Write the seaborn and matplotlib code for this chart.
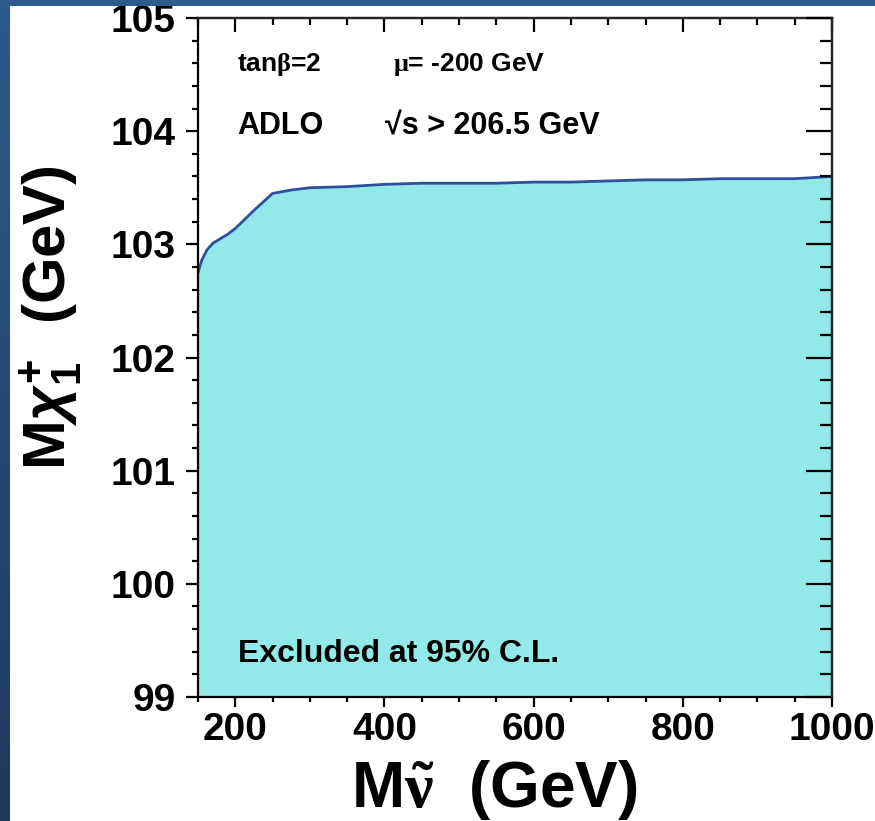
import numpy as np
import pandas as pd
import matplotlib
matplotlib.use("Agg")
import matplotlib.pyplot as plt
from matplotlib.patches import Rectangle
from matplotlib.ticker import MultipleLocator
import seaborn as sns

# Sneutrino mass (GeV) and the 95% C.L. lower limit on the lightest chargino mass (GeV)
snu_mass = [150, 155, 162, 170, 180, 190, 200, 225, 250, 275, 300, 350, 400, 450,
            500, 550, 600, 650, 700, 750, 800, 850, 900, 950, 1000]
chargino_limit = [102.75, 102.86, 102.95, 103.01, 103.05, 103.09, 103.14, 103.30, 103.45,
                  103.48, 103.50, 103.51, 103.53, 103.54, 103.54, 103.54, 103.55, 103.55,
                  103.56, 103.57, 103.57, 103.58, 103.58, 103.58, 103.60]

x_ticks = [200, 400, 600, 800, 1000]
y_ticks = [99, 100, 101, 102, 103, 104, 105]
x_range = (150, 1000)
y_range = (99, 105)

fill_color = "#93e9ea"
line_color = "#2e4f9c"
frame_top = "#2d5b8c"

sns.set_theme(style="white")
plt.rcParams["font.family"] = ["Liberation Sans", "DejaVu Sans"]
plt.rcParams["font.weight"] = "bold"
# upright Greek in a serif face, slanted Greek and bold digits in sans
plt.rcParams["mathtext.fontset"] = "custom"
plt.rcParams["mathtext.rm"] = "Liberation Serif"
plt.rcParams["mathtext.it"] = "Liberation Sans:italic:bold"
plt.rcParams["mathtext.bf"] = "Liberation Sans:bold"
for key in ["text.color", "axes.labelcolor", "xtick.color", "ytick.color"]:
    plt.rcParams[key] = "black"

W, H = 875, 821
fig = plt.figure(figsize=(W / 100, H / 100), dpi=100)
fig.patch.set_facecolor("white")

# slide frame: top band and shaded left band
fig.patches.append(Rectangle((0, 1 - 6 / H), 1, 6 / H, transform=fig.transFigure,
                             facecolor=frame_top, edgecolor="none", zorder=0))
band = fig.add_axes([0, 0, 10 / W, 1 - 6 / H])
grad = np.linspace(0, 1, 256).reshape(-1, 1)
band.imshow(grad, aspect="auto", cmap=matplotlib.colors.LinearSegmentedColormap.from_list(
    "frame", ["#2c5a8b", "#1c3a5d"]), extent=[0, 1, 0, 1])
band.axis("off")

ax = fig.add_axes([198 / W, 1 - 697 / H, (832 - 198) / W, (697 - 18) / H])
df = pd.DataFrame({"snu": snu_mass, "chi": chargino_limit})
ax.fill_between(df["snu"], y_range[0], df["chi"], color=fill_color, lw=0, zorder=0.5)
sns.lineplot(data=df, x="snu", y="chi", ax=ax, color=line_color, lw=2,
             estimator=None, sort=False, zorder=3)

ax.set_xlim(*x_range)
ax.set_ylim(*y_range)
ax.set_xticks(x_ticks)
ax.set_yticks(y_ticks)
ax.xaxis.set_minor_locator(MultipleLocator(50))
ax.yaxis.set_minor_locator(MultipleLocator(0.2))
for s in ax.spines.values():
    s.set_linewidth(1.6)
    s.set_color("black")
    s.set_zorder(5)

ax.tick_params(axis="both", which="both", color="black", width=1.6,
               bottom=True, left=True, top=False, right=False)
ax.tick_params(axis="x", which="major", direction="out", length=7, pad=4, labelsize=28)
ax.tick_params(axis="x", which="minor", direction="out", length=3.5)
ax.tick_params(axis="y", which="major", direction="out", length=9, pad=7, labelsize=28)
ax.tick_params(axis="y", which="minor", direction="out", length=4.5)
for lab in ax.get_xticklabels() + ax.get_yticklabels():
    lab.set_fontweight("bold")

top = ax.secondary_xaxis("top")
top.set_zorder(6)
top.set_xticks(x_ticks)
top.xaxis.set_minor_locator(MultipleLocator(50))
top.tick_params(axis="x", which="major", direction="in", length=10, width=1.6,
                top=True, labeltop=False)
top.tick_params(axis="x", which="minor", direction="in", length=5, width=1.6, top=True)
top.spines["top"].set_linewidth(1.6)
right = ax.secondary_yaxis("right")
right.set_zorder(6)
right.set_yticks(y_ticks)
right.yaxis.set_minor_locator(MultipleLocator(0.2))
right.tick_params(axis="y", which="major", direction="in", length=19, width=1.6,
                  right=True, labelright=False)
right.tick_params(axis="y", which="minor", direction="in", length=9, width=1.6, right=True)
right.spines["right"].set_linewidth(1.6)

ax.set_xlabel(r"M$\tilde{\mathrm{\nu}}$  (GeV)", fontsize=46, fontweight="bold")
ax.xaxis.set_label_coords(0.468, -0.1375)
ax.xaxis.label.set_va("center")
ax.set_ylabel(r"M$\chi^{\mathbf{+}}_{\mathbf{1}}$  (GeV)", fontsize=43, fontweight="bold")
ax.yaxis.set_label_coords(-0.232, 0.558)
ax.yaxis.label.set_va("center")

ax.text(202, 104.585, r"tan$\mathrm{\beta}$=2", fontsize=19, fontweight="bold", va="center")
ax.text(411, 104.585, r"$\mathrm{\mu}$= -200 GeV", fontsize=19, fontweight="bold", va="center")
ax.text(202, 104.05, "ADLO", fontsize=22, fontweight="bold", va="center")
ax.text(401, 104.05, "\u221as > 206.5 GeV", fontsize=22, fontweight="bold", va="center")
ax.text(204, 99.38, "Excluded at 95% C.L.", fontsize=23, fontweight="bold", va="center")

fig.savefig("out.png", dpi=100)
